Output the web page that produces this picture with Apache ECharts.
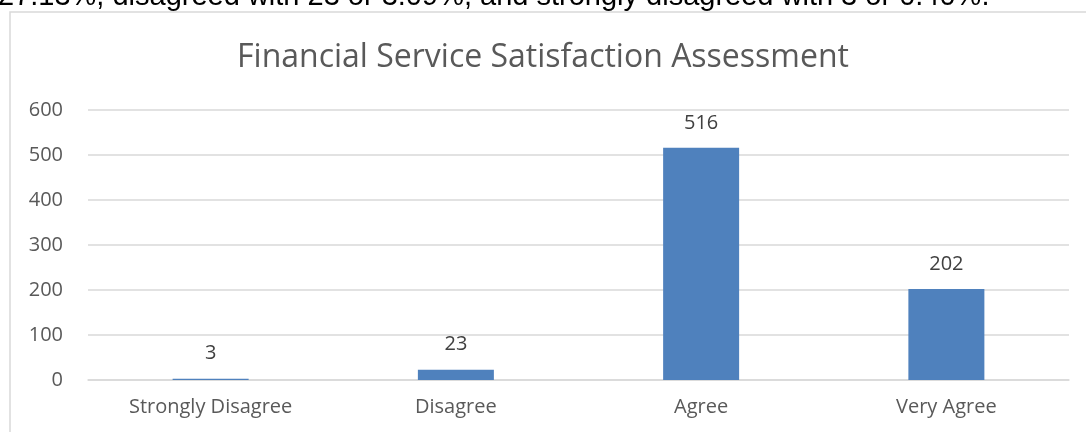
<!DOCTYPE html>
<html>
<head>
<meta charset="utf-8">
<script src="https://cdn.jsdelivr.net/npm/echarts@6/dist/echarts.min.js"></script>
<style>
  html, body { margin: 0; padding: 0; background: #fff; }
  #chart { width: 1086px; height: 432px; }
</style>
</head>
<body>
<div id="chart"></div>
<script>
// answers per category
const categories = ['Strongly Disagree', 'Disagree', 'Agree', 'Very Agree']
const counts = [3, 23, 516, 202]
const yTicks = [0, 100, 200, 300, 400, 500, 600]

const chart = echarts.init(document.getElementById('chart'))

chart.setOption({
    animation: false,
    backgroundColor: '#fff',
    title: {
        text: 'Financial Service Satisfaction Assessment',
        left: 'center',
        top: 37,
        textStyle: {
            fontFamily: 'Open Sans',
            fontSize: 32,
            fontWeight: 400,
            color: '#595959'
        }
    },
    // the page text above the chart, cut off by the crop
    graphic: [
        {
            type: 'text',
            left: -2,
            top: -18,
            style: {
                text: '27.13%, disagreed with 23 or 3.09%, and strongly disagreed with 3 or 0.40%.',
                font: '29px "Liberation Sans"',
                fill: '#000'
            }
        },
        {
            type: 'rect',
            shape: { x: 10, y: 12, width: 1090, height: 440 },
            style: { fill: 'none', stroke: '#d9d9d9', lineWidth: 1.5 }
        }
    ],
    grid: {
        left: 88,
        right: 17,
        top: 110,
        bottom: 52
    },
    xAxis: {
        type: 'category',
        data: categories,
        axisTick: { show: false },
        axisLine: { lineStyle: { color: '#d9d9d9', width: 1.5 } },
        axisLabel: {
            margin: 17,
            fontFamily: 'Open Sans',
            fontSize: 20,
            color: '#595959'
        }
    },
    yAxis: {
        type: 'value',
        min: yTicks[0],
        max: yTicks[yTicks.length - 1],
        interval: 100,
        axisLine: { show: false },
        axisTick: { show: false },
        splitLine: { lineStyle: { color: '#d9d9d9', width: 1.5 } },
        axisLabel: {
            margin: 25,
            fontFamily: 'Open Sans',
            fontSize: 20,
            color: '#595959'
        }
    },
    series: [
        {
            type: 'bar',
            data: counts,
            barWidth: 76,
            itemStyle: { color: '#4f81bd' },
            label: {
                show: true,
                position: 'top',
                distance: 15,
                fontFamily: 'Open Sans',
                fontSize: 20,
                color: '#404040'
            }
        }
    ]
})
</script>
</body>
</html>
